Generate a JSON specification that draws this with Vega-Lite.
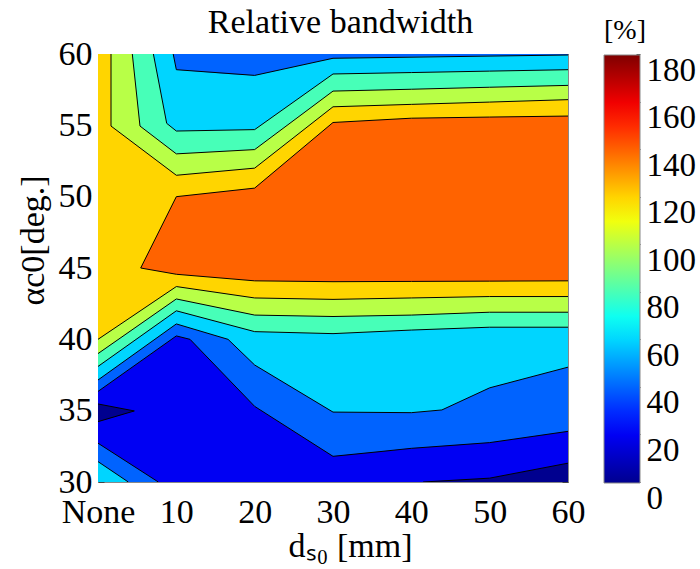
{
  "$schema": "https://vega.github.io/schema/vega-lite/v6.json",
  "width": 470,
  "height": 428,
  "autosize": "none",
  "padding": {"left": 98, "top": 54, "right": 132, "bottom": 87},
  "background": "white",
  "config": {
    "view": {"stroke": "#888", "strokeWidth": 1},
    "axis": {
      "labelFont": "Liberation Serif", "labelFontSize": 34, "labelColor": "black",
      "titleFont": "Liberation Serif", "titleFontSize": 34, "titleFontWeight": "normal", "titleColor": "black",
      "domainColor": "#888", "tickColor": "#444", "tickSize": -6,
      "grid": true, "gridColor": "#000", "gridOpacity": 0.12,
      "zindex": 1, "labelFlush": false, "labelOverlap": false
    }
  },
  "datasets": {
    "areas": [
      {"id": "b", "level": 20, "x": 0, "y": 30, "y2": 60},
      {"id": "b", "level": 20, "x": 60, "y": 30, "y2": 60},
      {"id": "n1", "level": 0, "x": 0, "y": 34.23, "y2": 35.47},
      {"id": "n1", "level": 0, "x": 4.64, "y": 34.98, "y2": 34.98},
      {"id": "n2", "level": 0, "x": 41.5, "y": 30, "y2": 30},
      {"id": "n2", "level": 0, "x": 50, "y": 30, "y2": 30.27},
      {"id": "n2", "level": 0, "x": 60, "y": 30, "y2": 31.32},
      {"id": "a40", "level": 40, "x": 0, "y": 36.35, "y2": 60},
      {"id": "a40", "level": 40, "x": 10, "y": 40.24, "y2": 60},
      {"id": "a40", "level": 40, "x": 11.75, "y": 40, "y2": 60},
      {"id": "a40", "level": 40, "x": 20, "y": 35.3, "y2": 60},
      {"id": "a40", "level": 40, "x": 30, "y": 31.8, "y2": 60},
      {"id": "a40", "level": 40, "x": 36, "y": 32.13, "y2": 60},
      {"id": "a40", "level": 40, "x": 40, "y": 32.36, "y2": 60},
      {"id": "a40", "level": 40, "x": 50, "y": 32.76, "y2": 60},
      {"id": "a40", "level": 40, "x": 60, "y": 33.55, "y2": 60},
      {"id": "a40b", "level": 40, "x": 0, "y": 30, "y2": 32.72},
      {"id": "a40b", "level": 40, "x": 7.7, "y": 30, "y2": 30},
      {"id": "a60", "level": 60, "x": 0, "y": 37.15, "y2": 60},
      {"id": "a60", "level": 60, "x": 9.6, "y": 40.92, "y2": 60},
      {"id": "a60", "level": 60, "x": 10, "y": 41.08, "y2": 58.9},
      {"id": "a60", "level": 60, "x": 16.6, "y": 40, "y2": 58.6},
      {"id": "a60", "level": 60, "x": 20, "y": 38.2, "y2": 58.5},
      {"id": "a60", "level": 60, "x": 30, "y": 34.9, "y2": 59.7},
      {"id": "a60", "level": 60, "x": 40, "y": 34.86, "y2": 59.8},
      {"id": "a60", "level": 60, "x": 43.9, "y": 35.05, "y2": 59.84},
      {"id": "a60", "level": 60, "x": 50, "y": 36.6, "y2": 59.87},
      {"id": "a60", "level": 60, "x": 60, "y": 38.05, "y2": 59.93},
      {"id": "a60b", "level": 60, "x": 0, "y": 30, "y2": 31.43},
      {"id": "a60b", "level": 60, "x": 3.87, "y": 30, "y2": 30},
      {"id": "a80", "level": 80, "x": 0, "y": 38.1, "y2": 60},
      {"id": "a80", "level": 80, "x": 7.07, "y": 40.86, "y2": 60},
      {"id": "a80", "level": 80, "x": 8.77, "y": 41.52, "y2": 55.14},
      {"id": "a80", "level": 80, "x": 10, "y": 42, "y2": 54.6},
      {"id": "a80", "level": 80, "x": 20, "y": 40.54, "y2": 54.7},
      {"id": "a80", "level": 80, "x": 30, "y": 40.4, "y2": 58.6},
      {"id": "a80", "level": 80, "x": 40, "y": 40.65, "y2": 58.7},
      {"id": "a80", "level": 80, "x": 50, "y": 40.85, "y2": 58.8},
      {"id": "a80", "level": 80, "x": 60, "y": 40.85, "y2": 58.9},
      {"id": "a100", "level": 100, "x": 0, "y": 39, "y2": 60},
      {"id": "a100", "level": 100, "x": 4.38, "y": 40.68, "y2": 60},
      {"id": "a100", "level": 100, "x": 5.36, "y": 41.05, "y2": 54.95},
      {"id": "a100", "level": 100, "x": 10, "y": 42.83, "y2": 53},
      {"id": "a100", "level": 100, "x": 20, "y": 41.7, "y2": 53.3},
      {"id": "a100", "level": 100, "x": 30, "y": 41.6, "y2": 57.4},
      {"id": "a100", "level": 100, "x": 40, "y": 41.7, "y2": 57.53},
      {"id": "a100", "level": 100, "x": 50, "y": 41.9, "y2": 57.67},
      {"id": "a100", "level": 100, "x": 60, "y": 41.9, "y2": 57.8},
      {"id": "a120", "level": 120, "x": 0, "y": 40, "y2": 60},
      {"id": "a120", "level": 120, "x": 1.66, "y": 40.61, "y2": 60},
      {"id": "a120", "level": 120, "x": 1.67, "y": 40.62, "y2": 54.95},
      {"id": "a120", "level": 120, "x": 10, "y": 43.7, "y2": 51.5},
      {"id": "a120", "level": 120, "x": 20, "y": 42.9, "y2": 52},
      {"id": "a120", "level": 120, "x": 30, "y": 42.8, "y2": 56.3},
      {"id": "a120", "level": 120, "x": 40, "y": 42.9, "y2": 56.47},
      {"id": "a120", "level": 120, "x": 50, "y": 43, "y2": 56.63},
      {"id": "a120", "level": 120, "x": 60, "y": 43, "y2": 56.8},
      {"id": "a140", "level": 140, "x": 5.45, "y": 45, "y2": 45},
      {"id": "a140", "level": 140, "x": 10, "y": 44.56, "y2": 50},
      {"id": "a140", "level": 140, "x": 20, "y": 44.1, "y2": 50.6},
      {"id": "a140", "level": 140, "x": 30, "y": 44.04, "y2": 55.2},
      {"id": "a140", "level": 140, "x": 40, "y": 44.06, "y2": 55.5},
      {"id": "a140", "level": 140, "x": 50, "y": 44.08, "y2": 55.58},
      {"id": "a140", "level": 140, "x": 60, "y": 44.1, "y2": 55.65}
    ],
    "lines": [
      {"id": "l140", "i": 0, "x": 60, "y": 55.65},
      {"id": "l140", "i": 1, "x": 50, "y": 55.58},
      {"id": "l140", "i": 2, "x": 40, "y": 55.5},
      {"id": "l140", "i": 3, "x": 30, "y": 55.2},
      {"id": "l140", "i": 4, "x": 20, "y": 50.6},
      {"id": "l140", "i": 5, "x": 10, "y": 50},
      {"id": "l140", "i": 6, "x": 5.45, "y": 45},
      {"id": "l140", "i": 7, "x": 10, "y": 44.56},
      {"id": "l140", "i": 8, "x": 20, "y": 44.1},
      {"id": "l140", "i": 9, "x": 30, "y": 44.04},
      {"id": "l140", "i": 10, "x": 40, "y": 44.06},
      {"id": "l140", "i": 11, "x": 50, "y": 44.08},
      {"id": "l140", "i": 12, "x": 60, "y": 44.1},
      {"id": "l120u", "i": 0, "x": 1.66, "y": 60},
      {"id": "l120u", "i": 1, "x": 1.66, "y": 54.95},
      {"id": "l120u", "i": 2, "x": 10, "y": 51.5},
      {"id": "l120u", "i": 3, "x": 20, "y": 52},
      {"id": "l120u", "i": 4, "x": 30, "y": 56.3},
      {"id": "l120u", "i": 5, "x": 40, "y": 56.47},
      {"id": "l120u", "i": 6, "x": 50, "y": 56.63},
      {"id": "l120u", "i": 7, "x": 60, "y": 56.8},
      {"id": "l120l", "i": 0, "x": 0, "y": 40},
      {"id": "l120l", "i": 1, "x": 10, "y": 43.7},
      {"id": "l120l", "i": 2, "x": 20, "y": 42.9},
      {"id": "l120l", "i": 3, "x": 30, "y": 42.8},
      {"id": "l120l", "i": 4, "x": 40, "y": 42.9},
      {"id": "l120l", "i": 5, "x": 50, "y": 43},
      {"id": "l120l", "i": 6, "x": 60, "y": 43},
      {"id": "l100u", "i": 0, "x": 4.38, "y": 60},
      {"id": "l100u", "i": 1, "x": 5.36, "y": 54.95},
      {"id": "l100u", "i": 2, "x": 10, "y": 53},
      {"id": "l100u", "i": 3, "x": 20, "y": 53.3},
      {"id": "l100u", "i": 4, "x": 30, "y": 57.4},
      {"id": "l100u", "i": 5, "x": 40, "y": 57.53},
      {"id": "l100u", "i": 6, "x": 50, "y": 57.67},
      {"id": "l100u", "i": 7, "x": 60, "y": 57.8},
      {"id": "l100l", "i": 0, "x": 0, "y": 39},
      {"id": "l100l", "i": 1, "x": 10, "y": 42.83},
      {"id": "l100l", "i": 2, "x": 20, "y": 41.7},
      {"id": "l100l", "i": 3, "x": 30, "y": 41.6},
      {"id": "l100l", "i": 4, "x": 40, "y": 41.7},
      {"id": "l100l", "i": 5, "x": 50, "y": 41.9},
      {"id": "l100l", "i": 6, "x": 60, "y": 41.9},
      {"id": "l80u", "i": 0, "x": 7.07, "y": 60},
      {"id": "l80u", "i": 1, "x": 8.77, "y": 55.14},
      {"id": "l80u", "i": 2, "x": 10, "y": 54.6},
      {"id": "l80u", "i": 3, "x": 20, "y": 54.7},
      {"id": "l80u", "i": 4, "x": 30, "y": 58.6},
      {"id": "l80u", "i": 5, "x": 40, "y": 58.7},
      {"id": "l80u", "i": 6, "x": 50, "y": 58.8},
      {"id": "l80u", "i": 7, "x": 60, "y": 58.9},
      {"id": "l80l", "i": 0, "x": 0, "y": 38.1},
      {"id": "l80l", "i": 1, "x": 10, "y": 42},
      {"id": "l80l", "i": 2, "x": 20, "y": 40.54},
      {"id": "l80l", "i": 3, "x": 30, "y": 40.4},
      {"id": "l80l", "i": 4, "x": 40, "y": 40.65},
      {"id": "l80l", "i": 5, "x": 50, "y": 40.85},
      {"id": "l80l", "i": 6, "x": 60, "y": 40.85},
      {"id": "l60u", "i": 0, "x": 9.6, "y": 60},
      {"id": "l60u", "i": 1, "x": 10, "y": 58.9},
      {"id": "l60u", "i": 2, "x": 20, "y": 58.5},
      {"id": "l60u", "i": 3, "x": 30, "y": 59.7},
      {"id": "l60u", "i": 4, "x": 60, "y": 59.93},
      {"id": "l60l", "i": 0, "x": 0, "y": 37.15},
      {"id": "l60l", "i": 1, "x": 10, "y": 41.08},
      {"id": "l60l", "i": 2, "x": 16.6, "y": 40},
      {"id": "l60l", "i": 3, "x": 20, "y": 38.2},
      {"id": "l60l", "i": 4, "x": 30, "y": 34.9},
      {"id": "l60l", "i": 5, "x": 40, "y": 34.86},
      {"id": "l60l", "i": 6, "x": 43.9, "y": 35.05},
      {"id": "l60l", "i": 7, "x": 50, "y": 36.6},
      {"id": "l60l", "i": 8, "x": 60, "y": 38.05},
      {"id": "l60b", "i": 0, "x": 0, "y": 31.43},
      {"id": "l60b", "i": 1, "x": 3.87, "y": 30},
      {"id": "l40l", "i": 0, "x": 0, "y": 36.35},
      {"id": "l40l", "i": 1, "x": 10, "y": 40.24},
      {"id": "l40l", "i": 2, "x": 11.75, "y": 40},
      {"id": "l40l", "i": 3, "x": 20, "y": 35.3},
      {"id": "l40l", "i": 4, "x": 30, "y": 31.8},
      {"id": "l40l", "i": 5, "x": 36, "y": 32.13},
      {"id": "l40l", "i": 6, "x": 40, "y": 32.36},
      {"id": "l40l", "i": 7, "x": 50, "y": 32.76},
      {"id": "l40l", "i": 8, "x": 60, "y": 33.55},
      {"id": "l40b", "i": 0, "x": 0, "y": 32.72},
      {"id": "l40b", "i": 1, "x": 7.7, "y": 30},
      {"id": "l20a", "i": 0, "x": 0, "y": 35.47},
      {"id": "l20a", "i": 1, "x": 4.64, "y": 34.98},
      {"id": "l20a", "i": 2, "x": 0, "y": 34.23},
      {"id": "l20b", "i": 0, "x": 41.5, "y": 30},
      {"id": "l20b", "i": 1, "x": 50, "y": 30.27},
      {"id": "l20b", "i": 2, "x": 60, "y": 31.32}
    ]
  },
  "resolve": {"axis": {"x": "independent", "y": "independent"}, "scale": {"y": "independent"}},
  "layer": [
    {
      "data": {"name": "areas"},
      "mark": {"type": "area", "clip": true, "interpolate": "linear", "opacity": 1},
      "encoding": {
        "x": {
          "field": "x", "type": "quantitative",
          "scale": {"domain": [0, 60], "nice": false, "zero": false},
          "axis": {
            "orient": "bottom",
            "values": [0, 10, 20, 30, 40, 50, 60],
            "labelExpr": "datum.value == 0 ? 'None' : datum.label",
            "labelPadding": 19,
            "title": "dₛ₀ [mm]", "titlePadding": 0, "titleX": 252
          }
        },
        "y": {
          "field": "y", "type": "quantitative",
          "scale": {"domain": [30, 60], "nice": false, "zero": false},
          "stack": null,
          "axis": {
            "orient": "left",
            "values": [30, 35, 40, 45, 50, 55, 60],
            "labelPadding": 12,
            "title": "αc0[deg.]", "titleY": 186, "titleX": -48
          }
        },
        "y2": {"field": "y2"},
        "color": {
          "field": "level", "type": "quantitative",
          "scale": {
            "domain": [0, 22.5, 67.5, 112.5, 157.5, 180],
            "range": ["#00008f", "#0000ff", "#00ffff", "#ffff00", "#ff0000", "#800000"],
            "interpolate": "rgb"
          },
          "legend": {
            "orient": "none", "legendX": 506, "legendY": -37, "direction": "vertical",
            "gradientLength": 428, "gradientThickness": 36,
            "gradientStrokeColor": "#888", "gradientStrokeWidth": 1,
            "values": [0, 180],
            "title": "[%]", "titleFont": "Liberation Serif", "titleFontSize": 28,
            "titleFontWeight": "normal", "titleColor": "black", "titlePadding": 10,
            "titleAnchor": "start",
            "labelExpr": "''", "labelFontSize": 1, "padding": 0
          }
        },
        "detail": {"field": "id"}
      }
    },
    {
      "data": {"name": "lines"},
      "mark": {"type": "line", "color": "black", "strokeWidth": 1, "clip": true},
      "encoding": {
        "x": {
          "field": "x", "type": "quantitative",
          "axis": {
            "orient": "top", "values": [0, 10, 20, 30, 40, 50, 60],
            "labels": false, "grid": false,
            "title": "Relative bandwidth", "titlePadding": 14, "titleX": 242
          }
        },
        "y": {
          "field": "y", "type": "quantitative",
          "scale": {"domain": [30, 60], "nice": false, "zero": false},
          "axis": {
            "orient": "right", "values": [30, 35, 40, 45, 50, 55, 60],
            "labels": false, "grid": false, "title": null
          }
        },
        "detail": {"field": "id"},
        "order": {"field": "i", "type": "quantitative"}
      }
    },
    {
      "data": {"name": "areas"},
      "mark": {"type": "point", "opacity": 0, "clip": true},
      "encoding": {
        "x": {"field": "x", "type": "quantitative", "axis": null},
        "y": {
          "field": "level", "type": "quantitative",
          "scale": {"domain": [0, 180], "nice": false, "zero": false},
          "axis": {
            "orient": "right", "offset": 72, "values": [0, 20, 40, 60, 80, 100, 120, 140, 160, 180],
            "domain": false, "grid": false, "title": null,
            "tickSize": -4, "tickColor": "#444",
            "labelBaseline": "top", "labelPadding": 10, "labelFontSize": 33
          }
        }
      }
    }
  ]
}
